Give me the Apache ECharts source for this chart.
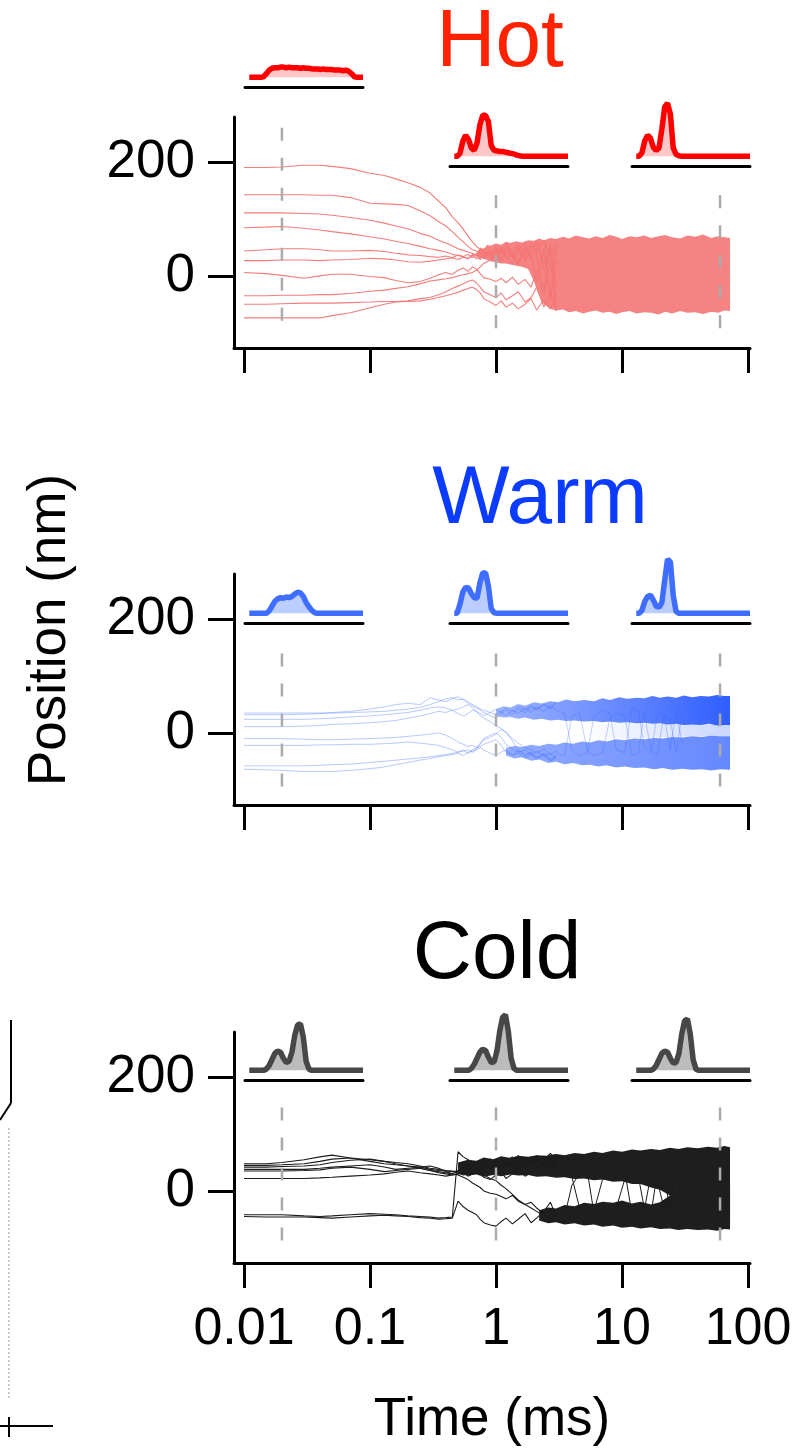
<!DOCTYPE html>
<html><head><meta charset="utf-8">
<script src="https://cdn.jsdelivr.net/npm/echarts@6/dist/echarts.min.js"></script>
<style>html,body{margin:0;padding:0;background:#fff}#c{width:804px;height:1451px}</style>
</head><body><div id="c"></div>
<script>
// ---------- axis ticks ----------
const timeTicks = [0.01, 0.1, 1, 10, 100];
const timeLabels = ['0.01', '0.1', '1', '10', '100'];
const posTicks = [0, 200];
const dashTimes = [0.02, 1, 60];

// ---------- trajectory time grids (ms) ----------
const trajT = [0.01,0.015,0.02,0.03,0.04,0.05,0.07,0.1,0.13,0.16,0.2,0.25,0.3,0.35,0.4,0.45,0.5,0.55,0.6,0.65,0.7,0.75,0.8,0.9,1.0,1.1,1.2,1.35,1.5,1.7,1.9,2.1,2.4,2.7,3.0];
const lateT = [3,3.5,4,4.6,5.3,6,7,8,9,10.5,12,13.5,15,17,19,21.5,24,27,30];

// ---------- Hot trajectories (nm) ----------
const hotA = [191,191,192,195,195,193,189,181,177,171,164,156,146,132,120,104,94,82,70,60,52,46,42,38,48,40,50,44,56,36,58,42,62,30,50];
const hotB = [143,143,143,143,142,142,138,128,127,126,124,115,106,96,88,78,68,60,52,46,44,40,48,36,52,42,58,38,46,56,30,50,62,38,58];
const hotC = [111,111,111,110,109,107,103,98,93,88,83,75,70,63,58,53,48,45,42,40,36,44,32,46,38,28,44,34,50,26,42,58,22,48,-20];
const hotD = [85,86,87,84,81,78,74,69,65,61,57,52,48,45,42,38,36,34,38,32,40,30,42,34,26,46,32,40,22,50,36,-8,44,-35,52];
const hotE = [44,46,48,48,46,44,44,45,43,40,37,36,34,33,35,32,37,34,30,38,34,29,40,33,45,24,52,35,20,46,33,-10,50,-45,30];
const hotF = [27,27,28,28,27,28,29,31,30,28,25,24,26,28,30,32,29,33,31,36,30,38,33,40,28,50,36,22,44,30,56,38,-25,58,-50];
const hotG = [6,4,1,-4,0,3,3,-1,-3,-8,-12,-10,-4,2,6,3,10,14,8,16,12,4,-3,-6,-10,-4,-12,-2,-15,-6,-20,10,-35,25,-55];
const hotH = [-35,-35,-34,-34,-33,-33,-31,-27,-25,-22,-19,-14,-9,-7,-5,-3,0,2,4,6,10,16,22,28,36,30,42,32,24,50,40,62,10,45,-15];
const hotI = [-50,-50,-49,-48,-48,-48,-47,-46,-45,-45,-44,-40,-38,-33,-28,-22,-18,-14,-10,-7,-12,-20,-28,-33,-38,-30,-42,-35,-28,-46,-38,-20,-55,-30,-62];
const hotJ = [-74,-74,-74,-74,-74,-70,-65,-56,-50,-46,-45,-44,-41,-38,-35,-32,-29,-25,-22,-20,-24,-30,-40,-46,-52,-44,-55,-48,-58,-50,-40,-60,-42,-58,-35];

// Hot dense region envelope
const hotBandT   = [0.7,0.75,0.8,0.85,0.9,1.0,1.1,1.2,1.3,1.45,1.6,1.8,2.0,2.2,2.4,2.7,3.0,3.4,3.8,4.3,4.9,5.5,6.2,7,8,9,10,11.5,13,15,17,19.5,22,25,29,33,38,44,51,58,65,72];
const hotBandTop = [40,50,47,55,53,57,55,60,58,61,59,63,62,66,63,67,65,69,66,71,68,66,70,67,72,69,65,70,68,71,67,70,72,68,66,71,69,73,67,70,68,67];
const hotBandBot = [36,32,30,28,26,24,22,22,20,18,16,12,-10,-35,-50,-58,-61,-59,-64,-62,-66,-63,-61,-65,-63,-67,-64,-62,-66,-64,-65,-68,-63,-66,-62,-65,-64,-67,-63,-65,-61,-62];

// ---------- Warm trajectories (nm) ----------
const warmA = [35,35,35,35,35,35,36,37,38,40,42,45,50,55,60,62,58,60,55,50,46,42,40,36,32,38,30,40,34,44,36,46,38,48,40];
const warmB = [32,32,32,33,34,36,38,42,46,50,52,50,62,58,55,60,64,58,52,48,44,40,36,30,26,34,40,32,42,36,46,40,50,42,52];
const warmC = [24,24,24,24,25,26,28,30,32,34,36,40,44,46,44,40,42,46,50,44,38,30,26,20,12,8,0,-10,-18,-26,-30,-36,-28,-38,-32];
const warmD = [11,11,11,12,13,15,16,18,20,22,26,30,34,38,36,40,34,30,34,40,38,34,30,36,42,36,44,38,46,40,48,42,50,44,54];
const warmE = [-10,-10,-10,-11,-12,-12,-11,-10,-9,-8,-6,-4,-2,0,-4,-10,-16,-20,-24,-22,-26,-18,-10,-4,0,-8,-20,-28,-34,-30,-38,-32,-40,-36,-44];
const warmF = [-22,-22,-22,-22,-21,-21,-20,-20,-19,-18,-16,-18,-20,-22,-26,-30,-34,-30,-36,-32,-28,-20,-12,-8,-2,6,2,-14,-30,-38,-34,-42,-36,-46,-40];
const warmG = [-58,-58,-58,-58,-57,-56,-55,-52,-50,-48,-46,-44,-42,-40,-38,-36,-34,-32,-30,-34,-30,-26,-30,-36,-40,-34,-30,-38,-32,-40,-36,-44,-38,-48,-42];
const warmH = [-64,-65,-66,-68,-68,-68,-66,-63,-60,-56,-52,-48,-45,-42,-40,-38,-36,-40,-34,-30,-26,-24,-20,-16,-12,-22,-34,-40,-36,-44,-38,-46,-40,-50,-44];
const warmX1 = [40,35,-30,-40,-35,30,40,35,-30,-35,45,40,-25,-35,30,35,-30,40,-20];
const warmX2 = [-35,-40,30,35,-30,-40,-35,25,35,30,-40,-35,35,-30,-40,30,25,-35,35];

const warmUpT   = [1.0,1.15,1.3,1.5,1.7,2.0,2.3,2.7,3.1,3.6,4.2,5,6,7,8,9.5,11,13,15,17.5,20,23,27,31,36,42,49,57,65,72];
const warmUpTop = [42,47,45,51,48,54,52,56,54,59,56,58,56,61,58,63,60,62,61,65,62,64,62,66,63,65,64,67,65,65];
const warmUpBot = [30,27,28,25,27,23,25,22,23,21,22,20,21,19,20,18,19,17,18,16,17,15,16,14,15,14,16,13,14,14];
const warmLoT   = [1.2,1.4,1.6,1.9,2.2,2.6,3,3.5,4.1,4.8,5.6,6.5,7.5,9,10.5,12.5,15,18,21,25,30,36,43,51,60,72];
const warmLoTop = [-26,-23,-25,-21,-23,-19,-21,-17,-19,-15,-17,-13,-15,-11,-13,-10,-11,-9,-10,-7,-8,-6,-7,-5,-6,-6];
const warmLoBot = [-40,-45,-43,-49,-47,-53,-51,-55,-53,-57,-56,-59,-57,-61,-59,-62,-61,-64,-62,-65,-63,-65,-64,-66,-64,-65];
const warmMidT   = [5,10,20,35,50,72];
const warmMidTop = [10,18,16,16,15,15];
const warmMidBot = [-5,-10,-8,-6,-6,-5];

// ---------- Cold trajectories (nm) ----------
const coldA = [48,48,50,55,60,63,58,55,52,50,48,44,40,38,36,35,34,40,46,52,48,44,50,56,52,46,54,60,50,58,48,62,54,66,56];
const coldB = [45,45,46,48,52,56,58,52,48,46,44,40,36,34,32,30,36,42,38,44,50,54,46,40,48,56,46,52,62,48,56,50,60,52,64];
const coldC = [42,42,43,44,46,50,54,56,52,48,44,42,38,36,35,34,32,28,30,36,40,34,42,48,38,44,50,42,36,50,44,56,46,58,48];
const coldD = [38,38,38,38,40,42,44,46,42,38,40,42,44,40,34,30,28,24,20,14,10,6,0,-4,-6,-10,-14,-8,-18,-24,-30,-36,-44,-50,-40];
const coldE = [35,35,35,36,37,40,42,38,34,36,38,40,36,32,30,28,30,32,26,30,36,30,24,20,28,34,22,30,36,26,32,44,30,40,50];
const coldF = [22,22,22,22,23,24,26,28,30,33,35,32,30,28,26,28,30,34,38,44,40,34,28,22,18,10,4,-6,-16,-24,-20,-30,-40,-32,-46];
const coldG = [-42,-42,-42,-44,-45,-44,-42,-40,-41,-42,-44,-45,-46,-48,-47,-46,69,60,55,48,40,46,52,44,36,42,50,44,38,46,52,40,48,58,44];
const coldH = [-45,-46,-46,-46,-47,-48,-46,-44,-43,-44,-45,-47,-48,-50,-49,-48,-18,-28,-34,-38,-42,-50,-56,-60,-62,-54,-48,-58,-50,-40,-56,-48,-36,-20,-44];
const coldX1 = [30,35,25,-30,-40,-35,20,30,25,35,-40,-30,-35,30,20,-30,-35,40,35];
const coldX2 = [-40,-45,10,30,35,-40,-45,-35,-30,20,30,25,-30,-40,30,35,-35,-25,30];

const coldUpT   = [0.5,0.6,0.7,0.8,0.95,1.1,1.3,1.5,1.8,2.1,2.5,3,3.5,4.2,5,6,7,8.5,10,12,14,17,20,24,28,33,40,48,57,65,72];
const coldUpTop = [50,55,53,59,56,61,58,62,60,63,62,65,63,67,65,69,67,71,69,73,71,74,72,76,74,77,75,78,76,79,77];
const coldUpBot = [30,27,29,25,28,26,29,27,28,25,26,23,24,21,22,19,20,16,17,12,12,6,2,-8,-14,-22,-30,-38,-45,-52,-55];
const coldLoT   = [2.2,2.6,3,3.5,4.2,5,6,7,8.5,10,12,14,17,20,24,28,33,40,48,57,65,72];
const coldLoTop = [-34,-29,-31,-25,-27,-21,-23,-19,-21,-17,-22,-19,-24,-20,-8,0,4,8,10,6,12,8];
const coldLoBot = [-52,-57,-55,-59,-57,-61,-59,-63,-61,-65,-63,-66,-64,-67,-66,-69,-67,-69,-68,-70,-67,-68];

// ---------- inset histograms (position bins, nm / counts) ----------
const histPos = [-100,-90,-80,-70,-60,-50,-40,-30,-20,-10,0,10,20,30,40,50,60,70,80,90,100,110,120,130,140,150,160,170,180,190,200,210,220,230,240,250,260,270,280,290,300];
const hotHist1  = [0,0,0,0,0,1,6,12,15,16,16,17,17,16,17,16,16,16,15,16,15,15,14,14,14,13,14,13,13,13,12,12,12,11,12,10,6,1,0,0,0];
const hotHist2  = [0,0,5,25,35,28,14,10,22,52,68,68,58,18,10,9,8,8,7,6,5,4,2,1,0,0,0,0,0,0,0,0,0,0,0,0,0,0,0,0,0];
const hotHist3  = [0,0,6,26,35,30,15,10,14,45,82,88,70,14,3,1,0,0,0,0,0,0,0,0,0,0,0,0,0,0,0,0,0,0,0,0,0,0,0,0,0];
const warmHist1 = [0,0,0,0,0,0,0,4,12,20,24,26,25,27,26,28,32,35,34,28,18,11,5,1,0,0,0,0,0,0,0,0,0,0,0,0,0,0,0,0,0];
const warmHist2 = [0,0,15,35,43,42,33,26,25,50,67,67,45,8,1,0,0,0,0,0,0,0,0,0,0,0,0,0,0,0,0,0,0,0,0,0,0,0,0,0,0];
const warmHist3 = [0,0,5,20,28,30,22,12,10,18,55,90,85,30,3,0,0,0,0,0,0,0,0,0,0,0,0,0,0,0,0,0,0,0,0,0,0,0,0,0,0];
const coldHist1 = [0,0,0,0,0,0,2,8,18,28,32,30,20,13,15,30,58,75,77,55,15,2,0,0,0,0,0,0,0,0,0,0,0,0,0,0,0,0,0,0,0];
const coldHist2 = [0,0,0,0,0,0,3,10,20,30,35,33,22,13,14,32,65,88,92,65,20,3,0,0,0,0,0,0,0,0,0,0,0,0,0,0,0,0,0,0,0];
const coldHist3 = [0,0,0,0,0,0,2,8,18,28,32,30,20,12,13,28,60,82,85,60,18,2,0,0,0,0,0,0,0,0,0,0,0,0,0,0,0,0,0,0,0];

// ---------- build ----------
const FONT = '"Liberation Sans", Arial, Helvetica, sans-serif';
const zip = (xs, ys) => xs.map((x, i) => [x, ys[i]]);
const tickLabel = v => timeLabels[Math.round(Math.log10(v)) + 2];
const hgrad = (a, b) => new echarts.graphic.LinearGradient(0, 0, 1, 0, [{offset:0, color:a}, {offset:1, color:b}]);

const panels = [
  {top:117, traj:[hotA,hotB,hotC,hotD,hotE,hotF,hotG,hotH,hotI,hotJ], lineColor:'rgba(243,118,118,0.95)', lineWidth:1.1,
   late:[], lateColor:'',
   bands:[{t:hotBandT, lo:hotBandBot, hi:hotBandTop, color:'#f58383'}],
   dashTop:[261,142,142], hist:[hotHist1,hotHist2,hotHist3], histBase:[87,166,166],
   histLine:'#ff0000', histArea:'rgba(255,110,110,0.55)'},
  {top:574, traj:[warmA,warmB,warmC,warmD,warmE,warmF,warmG,warmH], lineColor:'rgba(50,100,255,0.35)', lineWidth:1,
   late:[warmX1, warmX2], lateColor:'rgba(50,100,255,0.3)',
   bands:[{t:warmMidT, lo:warmMidBot, hi:warmMidTop, color:hgrad('rgba(60,110,255,0)','rgba(60,110,255,0.28)')},
          {t:warmUpT, lo:warmUpBot, hi:warmUpTop, color:hgrad('rgba(40,90,255,0.45)','rgba(30,80,255,0.92)')},
          {t:warmLoT, lo:warmLoBot, hi:warmLoTop, color:hgrad('rgba(40,90,255,0.5)','rgba(40,90,255,0.72)')}],
   dashTop:[140,140,140], hist:[warmHist1,warmHist2,warmHist3], histBase:[623,623,623],
   histLine:'#3f6dff', histArea:'rgba(80,125,255,0.55)'},
  {top:1032, traj:[coldA,coldB,coldC,coldD,coldE,coldF,coldG,coldH], lineColor:'#1c1c1c', lineWidth:1.1,
   late:[coldX1, coldX2], lateColor:'#1c1c1c',
   bands:[{t:coldUpT, lo:coldUpBot, hi:coldUpTop, color:'#1e1e1e'},
          {t:coldLoT, lo:coldLoBot, hi:coldLoTop, color:'#1e1e1e'}],
   dashTop:[147,147,147], hist:[coldHist1,coldHist2,coldHist3], histBase:[1080,1080,1080],
   histLine:'#474747', histArea:'rgba(95,95,95,0.6)'}
];
const insetLeft = [245, 450, 632];

function bandRenderer(b) {
  return function (params, api) {
    if (params.dataIndex !== 0) return null;
    const top = b.t.map((t, j) => api.coord([t, b.hi[j]]));
    const bot = b.t.map((t, j) => api.coord([t, b.lo[j]])).reverse();
    return {type:'polygon', shape:{points: top.concat(bot)}, style:{fill: b.color}};
  };
}

const grid = [], xAxis = [], yAxis = [], series = [];
panels.forEach((p, i) => {
  const gi = grid.length;
  grid.push({left:234, top:p.top, width:516, height:231});
  xAxis.push({type:'log', logBase:10, gridIndex:gi, min:0.00833, max:103.7,
    axisLine:{show:true, onZero:false, lineStyle:{color:'#000', width:3}},
    axisTick:{show:true, inside:false, length:25, lineStyle:{color:'#000', width:3}, customValues:timeTicks},
    axisLabel:{show:i===2, customValues:timeTicks, formatter:tickLabel, fontSize:52, fontFamily:FONT, color:'#000', margin:41},
    splitLine:{show:false}, minorTick:{show:false},
    name: i===2 ? 'Time (ms)' : '', nameLocation:'middle', nameGap:131,
    nameTextStyle:{fontSize:53, fontFamily:FONT, color:'#000'}});
  yAxis.push({type:'value', gridIndex:gi, min:-127, max:280,
    axisLine:{show:true, onZero:false, lineStyle:{color:'#000', width:3}},
    axisTick:{show:true, length:26, lineStyle:{color:'#000', width:3}, customValues:posTicks},
    axisLabel:{show:true, customValues:posTicks, fontSize:53, fontFamily:FONT, color:'#000', margin:39},
    splitLine:{show:false}});
  p.bands.forEach(b => {
    series.push({type:'custom', xAxisIndex:gi, yAxisIndex:gi, renderItem:bandRenderer(b),
      data:b.t.map((t, j) => [t, b.lo[j], b.hi[j]]), encode:{x:0, y:[1, 2]}, silent:true, z:2});
  });
  p.traj.forEach(v => series.push({type:'line', xAxisIndex:gi, yAxisIndex:gi, data:zip(trajT, v),
    symbol:'none', lineStyle:{color:p.lineColor, width:p.lineWidth}, silent:true, z:3}));
  p.late.forEach(v => series.push({type:'line', xAxisIndex:gi, yAxisIndex:gi, data:zip(lateT, v),
    symbol:'none', lineStyle:{color:p.lateColor, width:1}, silent:true, z:3}));
  dashTimes.forEach((t, k) => series.push({type:'line', xAxisIndex:gi, yAxisIndex:gi,
    data:[[t, p.dashTop[k]], [t, -100]], symbol:'none',
    lineStyle:{color:'#ababab', width:2.5, type:[13, 17]}, silent:true, z:6}));
  p.hist.forEach((h, k) => {
    const hi = grid.length;
    grid.push({left:insetLeft[k], top:p.histBase[k] - 70, width:118, height:70});
    xAxis.push({type:'value', gridIndex:hi, min:-115, max:300,
      axisLine:{show:true, onZero:false, lineStyle:{color:'#000', width:3}},
      axisTick:{show:false}, axisLabel:{show:false}, splitLine:{show:false}});
    yAxis.push({type:'value', gridIndex:hi, min:-16, max:100, show:false});
    series.push({type:'line', xAxisIndex:hi, yAxisIndex:hi, data:zip(histPos, h), symbol:'none',
      lineStyle:{color:p.histLine, width:5.5}, areaStyle:{color:p.histArea, origin:0}, silent:true, z:4});
  });
});

const titleFont = '82px ' + FONT;
const graphic = [
  {type:'text', x:500, y:43, style:{text:'Hot', font:titleFont, fill:'#ff2200', align:'center', verticalAlign:'middle'}},
  {type:'text', x:540, y:500, style:{text:'Warm', font:titleFont, fill:'#0a3bff', align:'center', verticalAlign:'middle'}},
  {type:'text', x:497, y:955, style:{text:'Cold', font:titleFont, fill:'#000', align:'center', verticalAlign:'middle'}},
  {type:'text', x:50, y:630, rotation:Math.PI/2, style:{text:'Position (nm)', font:'53px ' + FONT, fill:'#000', align:'center', verticalAlign:'middle'}},
  {type:'line', shape:{x1:11, y1:1020, x2:11, y2:1103}, style:{stroke:'#000', lineWidth:2}},
  {type:'line', shape:{x1:11, y1:1103, x2:0, y2:1120}, style:{stroke:'#000', lineWidth:2}},
  {type:'line', shape:{x1:9, y1:1128, x2:9, y2:1400}, style:{stroke:'#bbb', lineWidth:1.5, lineDash:[2, 2]}},
  {type:'line', shape:{x1:0, y1:1426, x2:53, y2:1426}, style:{stroke:'#000', lineWidth:2}},
  {type:'line', shape:{x1:9, y1:1417, x2:9, y2:1437}, style:{stroke:'#000', lineWidth:2}}
];

const chart = echarts.init(document.getElementById('c'), null, {renderer:'canvas'});
chart.setOption({animation:false, backgroundColor:'#fff', grid, xAxis, yAxis, series, graphic});
</script></body></html>
